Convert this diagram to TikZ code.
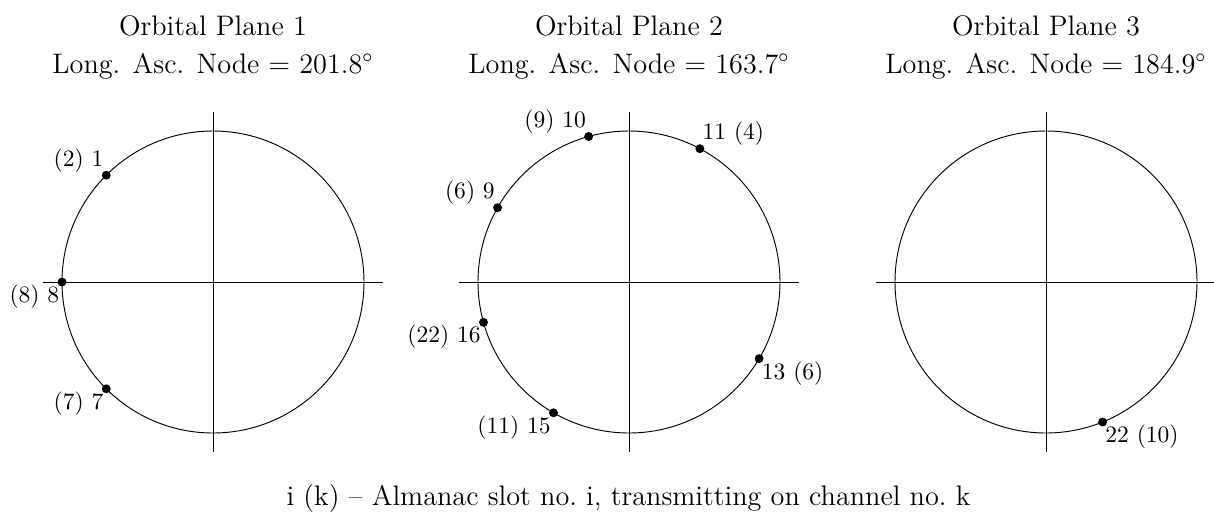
\documentclass[tikz,border=0pt]{standalone}
\usetikzlibrary{calc}
\begin{document}
\tikzset{
  orbit/.style={draw, line width=0.4pt},
  axisline/.style={draw, line width=0.4pt},
  sat/.style={circle, fill, inner sep=0pt, minimum size=3.8pt},
  lbl/.style={inner sep=1pt},
  titletext/.style={inner sep=0pt, anchor=base, font=\large},
}
\begin{tikzpicture}[x=0.425pt,y=0.425pt]
\useasboundingbox (0,0) rectangle (1214,514);
% ---------- Plane 1 ----------
\coordinate (o1) at (213,232);
\draw[orbit] (o1) circle[radius=151];
\coordinate (h1l) at ($(o1)+(-170,0)$);
\coordinate (h1r) at ($(o1)+(170,0)$);
\coordinate (v1t) at ($(o1)+(0,170)$);
\coordinate (v1b) at ($(o1)+(0,-170)$);
\draw[axisline] (h1l) -- (h1r);
\draw[axisline] (v1t) -- (v1b);
\node[sat] (s1) at ($(o1)+(135:151)$) {};
\node[sat] (s8) at ($(o1)+(180:151)$) {};
\node[sat] (s7) at ($(o1)+(225:151)$) {};
\node[lbl, anchor=south east] (l1) at (s1) {(2) 1};
\node[lbl, anchor=north east] (l8) at (s8) {(8) 8};
\node[lbl, anchor=north east] (l7) at (s7) {(7) 7};
\node[titletext] (t1a) at (213,479) {Orbital Plane 1};
\node[titletext] (t1b) at (213,441) {Long. Asc. Node = $201.8^\circ$};
% ---------- Plane 2 ----------
\coordinate (o2) at (629,232);
\draw[orbit] (o2) circle[radius=151];
\coordinate (h2l) at ($(o2)+(-170,0)$);
\coordinate (h2r) at ($(o2)+(170,0)$);
\coordinate (v2t) at ($(o2)+(0,170)$);
\coordinate (v2b) at ($(o2)+(0,-170)$);
\draw[axisline] (h2l) -- (h2r);
\draw[axisline] (v2t) -- (v2b);
\node[sat] (s9) at ($(o2)+(150.5:151)$) {};
\node[sat] (s10) at ($(o2)+(105.5:151)$) {};
\node[sat] (s11) at ($(o2)+(62:151)$) {};
\node[sat] (s13) at ($(o2)+(-30.5:151)$) {};
\node[sat] (s15) at ($(o2)+(240:151)$) {};
\node[sat] (s16) at ($(o2)+(195.5:151)$) {};
\node[lbl, anchor=south east] (l9) at (s9) {(6) 9};
\node[lbl, anchor=south east] (l10) at (s10) {(9) 10};
\node[lbl, anchor=south west] (l11) at (s11) {11 (4)};
\node[lbl, anchor=north west] (l13) at (s13) {13 (6)};
\node[lbl, anchor=north east] (l15) at (s15) {(11) 15};
\node[lbl, anchor=north east] (l16) at (s16) {(22) 16};
\node[titletext] (t2a) at (629,479) {Orbital Plane 2};
\node[titletext] (t2b) at (629,441) {Long. Asc. Node = $163.7^\circ$};
% ---------- Plane 3 ----------
\coordinate (o3) at (1046,232);
\draw[orbit] (o3) circle[radius=151];
\coordinate (h3l) at ($(o3)+(-170,0)$);
\coordinate (h3r) at ($(o3)+(170,0)$);
\coordinate (v3t) at ($(o3)+(0,170)$);
\coordinate (v3b) at ($(o3)+(0,-170)$);
\draw[axisline] (h3l) -- (h3r);
\draw[axisline] (v3t) -- (v3b);
\node[sat] (s22) at ($(o3)+(-68:151)$) {};
\node[lbl, anchor=north west] (l22) at (s22) {22 (10)};
\node[titletext] (t3a) at (1046,479) {Orbital Plane 3};
\node[titletext] (t3b) at (1046,441) {Long. Asc. Node = $184.9^\circ$};
% ---------- Caption ----------
\node[titletext] (cap) at (628.5,9) {i (k) -- Almanac slot no.\ i, transmitting on channel no.\ k};
\end{tikzpicture}
\end{document}
